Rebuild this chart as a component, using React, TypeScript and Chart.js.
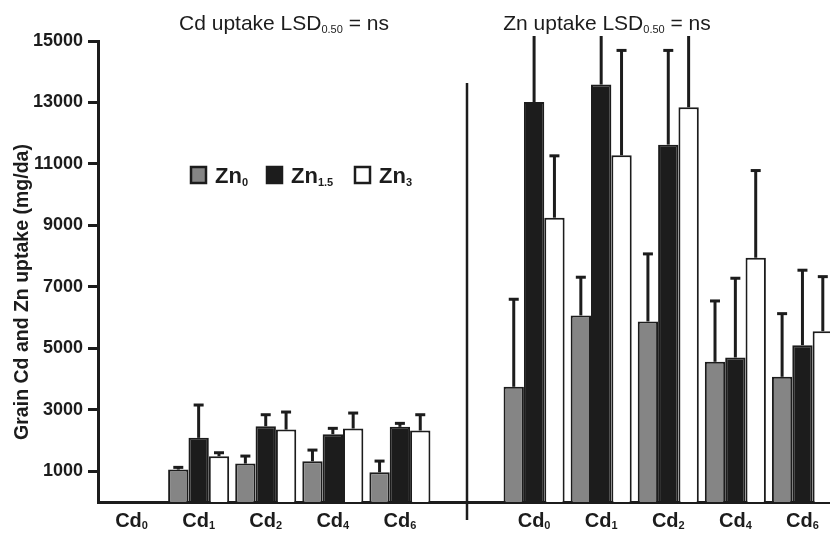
import React, { useEffect, useRef } from "react";
import { Chart, registerables } from "chart.js";

Chart.register(...registerables);

// ---- Data ----
const categories = ["Cd0", "Cd1", "Cd2", "Cd4", "Cd6", "", "Cd0", "Cd1", "Cd2", "Cd4", "Cd6"];
const categorySubs = ["0", "1", "2", "4", "6", "", "0", "1", "2", "4", "6"];
const seriesNames = ["Zn0", "Zn1.5", "Zn3"];
const seriesSubs = ["0", "1.5", "3"];

const zn0Values = [null, 1055, 1250, 1325, 967, null, 3748, 6070, 5874, 4562, 4073];
const zn15Values = [null, 2087, 2465, 2205, 2445, null, 13016, 13582, 11628, 4702, 5103];
const zn3Values = [null, 1488, 2357, 2390, 2325, null, 9251, 11280, 12843, 7948, 5559];

const zn0Errors = [null, 88, 261, 381, 381, null, 2865, 1260, 2215, 1996, 2072];
const zn15Errors = [null, 1085, 391, 208, 130, null, 2500, 2000, 3082, 2595, 2455];
const zn3Errors = [null, 131, 587, 521, 531, null, 2029, 3430, 2500, 2853, 1790];

const yTicks = [1000, 3000, 5000, 7000, 9000, 11000, 13000, 15000];
const yTitle = "Grain Cd and Zn uptake (mg/da)";
const panelTitles = ["Cd uptake LSD", "Zn uptake LSD"];
const panelTitleSub = "0.50";
const panelTitleTail = " = ns";

const seriesColors = ["#858585", "#1c1c1c", "#ffffff"];
const INK = "#1c1c1c";
const FONT = "'Liberation Sans', Arial, sans-serif";

type Part = { text: string; font: string; dy: number };

function drawRich(ctx: CanvasRenderingContext2D, parts: Part[], x: number, y: number, align: "left" | "center") {
  let total = 0;
  const widths = parts.map((p) => {
    ctx.font = p.font;
    const w = ctx.measureText(p.text).width;
    total += w;
    return w;
  });
  let cx = align === "center" ? x - total / 2 : x;
  ctx.textAlign = "left";
  ctx.textBaseline = "alphabetic";
  parts.forEach((p, i) => {
    ctx.font = p.font;
    ctx.fillText(p.text, cx, y + p.dy);
    cx += widths[i];
  });
}

const errorBarPlugin = {
  id: "errorBars",
  afterDatasetsDraw(chart: any) {
    const { ctx, chartArea, scales } = chart;
    const errs = [zn0Errors, zn15Errors, zn3Errors];
    ctx.save();
    ctx.beginPath();
    ctx.rect(0, chartArea.top - 5, chart.width, chartArea.bottom - chartArea.top + 5);
    ctx.clip();
    ctx.strokeStyle = INK;
    ctx.lineWidth = 3;
    chart.data.datasets.forEach((ds: any, di: number) => {
      const meta = chart.getDatasetMeta(di);
      meta.data.forEach((el: any, i: number) => {
        const v = ds.data[i];
        const e = errs[di][i];
        if (v == null || e == null) return;
        const yTop = scales.y.getPixelForValue(v + e);
        const x = el.x;
        ctx.beginPath();
        ctx.moveTo(x, el.y);
        ctx.lineTo(x, yTop);
        ctx.stroke();
        ctx.beginPath();
        ctx.moveTo(x - 5, yTop + 0.5);
        ctx.lineTo(x + 5, yTop + 0.5);
        ctx.stroke();
      });
    });
    ctx.restore();
  },
};

const decorPlugin = {
  id: "decor",
  afterDraw(chart: any) {
    const { ctx, chartArea, scales } = chart;
    ctx.save();
    ctx.fillStyle = INK;
    // panel titles
    const titleX = [284, 607];
    panelTitles.forEach((t, i) => {
      drawRich(
        ctx,
        [
          { text: t, font: `21px ${FONT}`, dy: 0 },
          { text: panelTitleSub, font: `11px ${FONT}`, dy: 3 },
          { text: panelTitleTail, font: `21px ${FONT}`, dy: 0 },
        ],
        titleX[i],
        30,
        "center"
      );
    });
    // divider
    const dx = scales.x.getPixelForValue(5);
    ctx.strokeStyle = INK;
    ctx.lineWidth = 2.5;
    ctx.beginPath();
    ctx.moveTo(dx, chartArea.top + 42);
    ctx.lineTo(dx, chartArea.bottom + 18);
    ctx.stroke();
    // x labels
    categories.forEach((c, i) => {
      if (!c) return;
      const x = scales.x.getPixelForValue(i);
      drawRich(
        ctx,
        [
          { text: "Cd", font: `bold 20px ${FONT}`, dy: 0 },
          { text: categorySubs[i], font: `bold 11px ${FONT}`, dy: 2 },
        ],
        x,
        527,
        "center"
      );
    });
    // y title
    ctx.save();
    ctx.translate(28, 292);
    ctx.rotate(-Math.PI / 2);
    ctx.font = `bold 19.5px ${FONT}`;
    ctx.textAlign = "center";
    ctx.textBaseline = "alphabetic";
    ctx.fillText(yTitle, 0, 0);
    ctx.restore();
    // legend
    const boxX = [191, 267, 355];
    const textX = [215, 291, 379];
    seriesNames.forEach((n, i) => {
      ctx.fillStyle = seriesColors[i];
      ctx.fillRect(boxX[i], 167, 15, 16);
      ctx.strokeStyle = INK;
      ctx.lineWidth = 2.5;
      ctx.strokeRect(boxX[i], 167, 15, 16);
      ctx.fillStyle = INK;
      drawRich(
        ctx,
        [
          { text: "Zn", font: `bold 22px ${FONT}`, dy: 0 },
          { text: seriesSubs[i], font: `bold 11px ${FONT}`, dy: 3 },
        ],
        textX[i],
        183,
        "left"
      );
    });
    ctx.restore();
  },
};

export default function App() {
  const ref = useRef<HTMLCanvasElement | null>(null);
  useEffect(() => {
    if (!ref.current) return;
    const datasets = [zn0Values, zn15Values, zn3Values].map((vals, i) => ({
      label: seriesNames[i],
      data: vals,
      backgroundColor: seriesColors[i],
      borderColor: INK,
      borderWidth: 2,
      borderSkipped: "bottom" as const,
      categoryPercentage: 0.91,
      barPercentage: 1,
    }));
    const chart = new Chart(ref.current, {
      type: "bar",
      data: { labels: categories, datasets },
      options: {
        animation: false,
        responsive: false,
        devicePixelRatio: 1,
        layout: { padding: { left: 6, top: 41, right: 0, bottom: 0 } },
        plugins: { legend: { display: false }, tooltip: { enabled: false }, title: { display: false } },
        scales: {
          x: {
            type: "category",
            offset: true,
            grid: { display: false },
            border: { display: true, width: 3, color: INK },
            ticks: { display: false },
            afterFit: (s: any) => {
              s.height = 31;
            },
          },
          y: {
            min: 0,
            max: 15000,
            afterBuildTicks: (s: any) => {
              s.ticks = yTicks.map((v) => ({ value: v }));
            },
            grid: { drawOnChartArea: false, drawTicks: true, tickLength: 10, tickWidth: 3, tickColor: INK },
            border: { display: true, width: 3, color: INK },
            ticks: {
              font: { family: FONT, weight: "bold", size: 18 },
              color: INK,
              padding: 5,
              callback: (v: any) => String(v),
            },
            afterFit: (s: any) => {
              s.width = 92;
            },
          },
        },
      },
      plugins: [errorBarPlugin, decorPlugin],
    });
    return () => chart.destroy();
  }, []);
  return (
    <div style={{ position: "fixed", left: 0, top: 0, width: 830, height: 533, overflow: "hidden", background: "#fff" }}>
      <canvas ref={ref} width={836} height={533} style={{ display: "block" }} />
    </div>
  );
}
